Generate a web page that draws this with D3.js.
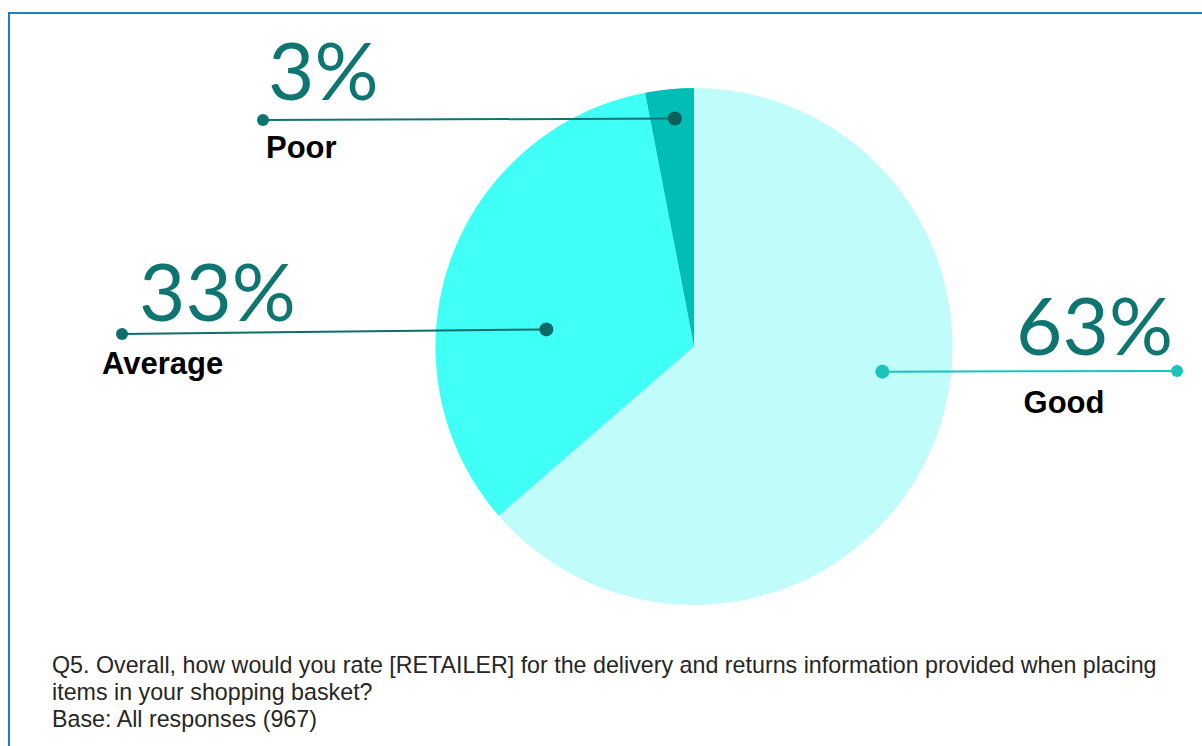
<!DOCTYPE html>
<html>
<head>
<meta charset="utf-8">
<script src="https://cdn.jsdelivr.net/npm/d3@7"></script>
<style>
  html, body { margin: 0; padding: 0; background: #fff; }
  svg { display: block; }
</style>
</head>
<body>
<svg id="chart" width="1202" height="746"></svg>
<script>
// Survey answers: rating of delivery & returns information
const categories = ["Good", "Average", "Poor"];
const values = [63, 33, 3];
const percentLabels = ["63%", "33%", "3%"];
const notes = [
  "Q5. Overall, how would you rate [RETAILER] for the delivery and returns information provided when placing",
  "items in your shopping basket?",
  "Base: All responses (967)"
];

const sliceColors = { Good: "#bffcfa", Average: "#40fff7", Poor: "#00bdb5" };

// Callout layout: inner anchor as (angle in degrees, fraction of radius), outer end x, y
const callouts = {
  Good:    { angle: 97.6,  rFrac: 0.735, outerX: 1177, outerY: 371, line: "#1cc3bb", dot: "#1cc3bb",
             pctX: 1173, pctY: 355, pctAnchor: "end",   labelX: 1064, labelY: 413, labelAnchor: "middle" },
  Average: { angle: 276.6, rFrac: 0.575, outerX: 122,  outerY: 334, line: "#0d6f6b", dot: "#0d6a66",
             pctX: 139,  pctY: 321, pctAnchor: "start", labelX: 102,  labelY: 374, labelAnchor: "start" },
  Poor:    { angle: 355.2, rFrac: 0.885, outerX: 263,  outerY: 120, line: "#0f7471", dot: "#0c5f5b",
             pctX: 268,  pctY: 100, pctAnchor: "start", labelX: 266,  labelY: 158, labelAnchor: "start" }
};

const svg = d3.select("#chart");

// Frame (top and left edges)
svg.append("path")
  .attr("d", "M9,746 V13 H1202")
  .attr("fill", "none")
  .attr("stroke", "#1a7fc4")
  .attr("stroke-width", 2);

const cx = 694, cy = 346.5, radius = 258.5;

const data = categories.map((c, i) => ({ category: c, value: values[i], pct: percentLabels[i] }));

const pie = d3.pie().value(d => d.value).sort(null);
const arc = d3.arc().innerRadius(0).outerRadius(radius);
const arcs = pie(data);

const g = svg.append("g").attr("transform", `translate(${cx},${cy})`);
g.selectAll("path.slice")
  .data(arcs)
  .join("path")
  .attr("class", "slice")
  .attr("d", arc)
  .attr("fill", d => sliceColors[d.data.category]);

// Leader lines with end dots
const calloutG = svg.append("g");
arcs.forEach(a => {
  const c = callouts[a.data.category];
  const ang = c.angle * Math.PI / 180;
  const ix = cx + Math.sin(ang) * radius * c.rFrac;
  const iy = cy - Math.cos(ang) * radius * c.rFrac;
  calloutG.append("line")
    .attr("x1", c.outerX).attr("y1", c.outerY)
    .attr("x2", ix).attr("y2", iy)
    .attr("stroke", c.line).attr("stroke-width", 2);
  calloutG.append("circle").attr("cx", c.outerX).attr("cy", c.outerY).attr("r", 6).attr("fill", c.line);
  calloutG.append("circle").attr("cx", ix).attr("cy", iy).attr("r", 7).attr("fill", c.dot);

  calloutG.append("text")
    .attr("x", c.pctX).attr("y", c.pctY)
    .attr("text-anchor", c.pctAnchor)
    .attr("font-family", "Lato, 'Noto Sans', sans-serif")
    .attr("font-weight", 400)
    .attr("font-size", 80)
    .attr("fill", "#0e7571")
    .text(a.data.pct);

  calloutG.append("text")
    .attr("x", c.labelX).attr("y", c.labelY)
    .attr("text-anchor", c.labelAnchor)
    .attr("font-family", "'Liberation Sans', Arial, sans-serif")
    .attr("font-weight", 700)
    .attr("font-size", 31)
    .attr("fill", "#000")
    .text(a.data.category);
});

// Question and base note
svg.append("g")
  .selectAll("text")
  .data(notes)
  .join("text")
  .attr("x", 52)
  .attr("y", (d, i) => 673 + i * 27)
  .attr("font-family", "'Liberation Sans', Arial, sans-serif")
  .attr("font-size", 23.25)
  .attr("fill", "#262626")
  .text(d => d);
</script>
</body>
</html>
